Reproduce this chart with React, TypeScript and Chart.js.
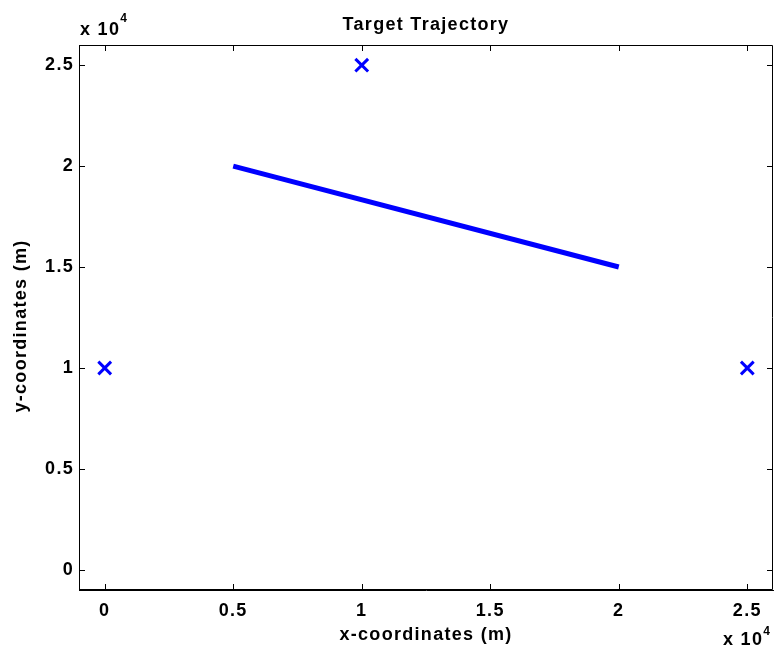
import React, { useEffect, useRef } from "react";
import { Chart, registerables } from "chart.js";

Chart.register(...registerables);

const titleText = "Target Trajectory";
const xAxisTitle = "x-coordinates (m)";
const yAxisTitle = "y-coordinates (m)";

const trajectoryX = [5000, 20000];
const trajectoryY = [20000, 15000];

const sensorX = [0, 10000, 25000];
const sensorY = [10000, 25000, 10000];

const tickValues = [0, 5000, 10000, 15000, 20000, 25000];
const tickLabels = ["0", "0.5", "1", "1.5", "2", "2.5"];

const axisMin = -1000;
const axisMax = 26000;

const FONT = "'Liberation Sans', Arial, Helvetica, sans-serif";
const BLUE = "#0000ff";
const SPACING = "1.3px";
const FS = 18;

const setSpacing = (chart: any) => {
  try {
    (chart.ctx as any).letterSpacing = SPACING;
  } catch (e) {}
};

const matlabPlugin = {
  id: "matlabDecor",
  beforeUpdate(chart: any) {
    setSpacing(chart);
  },
  beforeLayout(chart: any) {
    setSpacing(chart);
  },
  beforeDraw(chart: any) {
    setSpacing(chart);
  },
  afterDraw(chart: any) {
    const { ctx, chartArea } = chart;
    const { left, right, top, bottom } = chartArea;
    const xs = chart.scales.x;
    const ys = chart.scales.y;
    ctx.save();
    ctx.strokeStyle = "#000";
    ctx.lineWidth = 1;
    ctx.beginPath();
    ctx.rect(left + 0.5, top + 0.5, right - left - 1, bottom - top - 1);
    ctx.stroke();
    const tl = 6;
    ctx.beginPath();
    tickValues.forEach((v) => {
      const px = Math.round(xs.getPixelForValue(v)) + 0.5;
      ctx.moveTo(px, bottom);
      ctx.lineTo(px, bottom - tl);
      ctx.moveTo(px, top);
      ctx.lineTo(px, top + tl);
      const py = Math.round(ys.getPixelForValue(v)) + 0.5;
      ctx.moveTo(left, py);
      ctx.lineTo(left + tl, py);
      ctx.moveTo(right, py);
      ctx.lineTo(right - tl, py);
    });
    ctx.stroke();

    ctx.fillStyle = "#000";
    (ctx as any).letterSpacing = SPACING;
    ctx.textAlign = "center";
    ctx.textBaseline = "alphabetic";
    ctx.font = `bold ${FS}px ${FONT}`;
    ctx.fillText(titleText, (left + right) / 2, 30);

    // y-axis title, rotated
    ctx.save();
    ctx.translate(26, 326);
    ctx.rotate(-Math.PI / 2);
    ctx.textAlign = "center";
    ctx.textBaseline = "alphabetic";
    ctx.fillText(yAxisTitle, 0, 0);
    ctx.restore();

    const drawExp = (x: number, y: number, supDy: number) => {
      ctx.textAlign = "left";
      ctx.font = `bold ${FS}px ${FONT}`;
      ctx.fillText("x 10", x, y);
      const w = ctx.measureText("x 10").width;
      ctx.font = `bold 12px ${FONT}`;
      ctx.fillText("4", x + w, y - supDy);
    };
    drawExp(80, 35, 13);
    drawExp(723, 645, 10);
    ctx.restore();
  },
};

export default function App() {
  const ref = useRef<HTMLCanvasElement | null>(null);
  useEffect(() => {
    if (!ref.current) return;
    const chart = new Chart(ref.current, {
      type: "scatter",
      data: {
        datasets: [
          {
            data: trajectoryX.map((x, i) => ({ x, y: trajectoryY[i] })),
            showLine: true,
            borderColor: BLUE,
            backgroundColor: BLUE,
            borderWidth: 5,
            pointRadius: 0,
          },
          {
            data: sensorX.map((x, i) => ({ x, y: sensorY[i] })),
            showLine: false,
            pointStyle: "crossRot",
            pointRadius: 9,
            pointBorderWidth: 3,
            borderColor: BLUE,
            backgroundColor: BLUE,
          },
        ],
      },
      options: {
        responsive: false,
        animation: false,
        layout: { autoPadding: false, padding: { left: 0, right: 2, top: 45, bottom: 0 } },
        plugins: {
          legend: { display: false },
          title: { display: false },
          tooltip: { enabled: false },
        },
        scales: {
          x: {
            type: "linear",
            min: axisMin,
            max: axisMax,
            afterBuildTicks: (s: any) => {
              s.ticks = tickValues.map((v) => ({ value: v }));
            },
            afterFit: (s: any) => {
              s.height = 68;
              s.paddingLeft = 0;
              s.paddingRight = 0;
            },
            grid: { display: true, drawOnChartArea: false, drawTicks: false },
            border: { display: true, color: "#000", width: 1 },
            ticks: {
              color: "#000",
              padding: 10,
              maxRotation: 0,
              autoSkip: false,
              font: { family: FONT, size: FS, weight: "bold" },
              callback: (v: any) => tickLabels[tickValues.indexOf(Number(v))] ?? "",
            },
            title: {
              display: true,
              text: xAxisTitle,
              color: "#000",
              font: { family: FONT, size: FS, weight: "bold" },
              padding: { top: 0, bottom: 12 },
            },
          },
          y: {
            type: "linear",
            min: axisMin,
            max: axisMax,
            afterBuildTicks: (s: any) => {
              s.ticks = tickValues.map((v) => ({ value: v }));
            },
            afterFit: (s: any) => {
              s.width = 79;
              s.paddingTop = 0;
              s.paddingBottom = 0;
            },
            grid: { display: true, drawOnChartArea: false, drawTicks: false },
            border: { display: true, color: "#000", width: 1 },
            ticks: {
              color: "#000",
              padding: 5,
              autoSkip: false,
              font: { family: FONT, size: FS, weight: "bold" },
              callback: (v: any) => tickLabels[tickValues.indexOf(Number(v))] ?? "",
            },
            title: { display: false },
          },
        },
      },
      plugins: [matlabPlugin],
    } as any);
    return () => chart.destroy();
  }, []);
  return (
    <div style={{ position: "absolute", left: 0, top: 0, width: 775, height: 658, background: "#fff" }}>
      <canvas ref={ref} width={775} height={658} style={{ display: "block" }} />
    </div>
  );
}
